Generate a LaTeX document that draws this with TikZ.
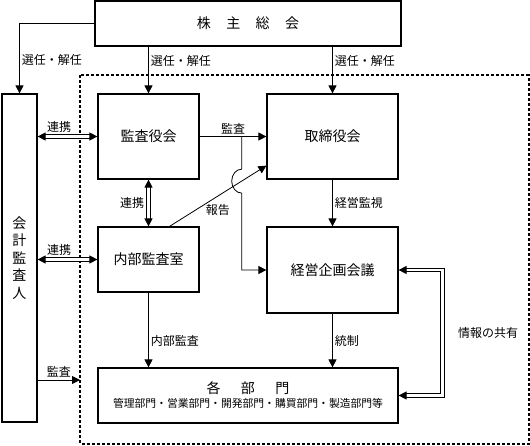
\documentclass[tikz,border=0pt]{standalone}
\usepackage{fontspec}
\setmainfont{Noto Sans CJK JP}
\usetikzlibrary{arrows.meta,calc}
\tikzset{
  box/.style = {draw, line width=1.2pt, inner sep=0pt, font=\fontsize{14}{17}\selectfont},
  arr/.style = {line width=0.8pt, -{Triangle[length=8pt,width=8pt]}},
  dbl/.style = {line width=1pt, double, double distance=2.4pt,
    {Triangle[length=8pt,width=8pt]}-{Triangle[length=8pt,width=8pt]}},
  lbl/.style = {font=\fontsize{12}{14}\selectfont, inner sep=2pt},
  frame/.style = {line width=2pt, dash pattern=on 3pt off 2pt}
}

\begin{document}
\begin{tikzpicture}[x=1pt,y=-1pt]
  \useasboundingbox (0,0) rectangle (530,445);
  % frame
  \draw[frame] (80,75) rectangle (528.5,443.5);
  % boxes
  \node[box, minimum width=306pt, minimum height=45pt] (sh) at (248,23.5)
    {株\hspace{1.1em}主\hspace{1.1em}総\hspace{1.1em}会};
  \node[box, minimum width=35pt, minimum height=328pt, align=center,
    font=\fontsize{14}{17.5}\selectfont] (kk) at (19.5,258) {会\\計\\監\\査\\人};
  \node[box, minimum width=101pt, minimum height=85pt] (ky) at (148.5,136.5) {監査役会};
  \node[box, minimum width=131pt, minimum height=85pt] (tr) at (332.5,136.5) {取締役会};
  \node[box, minimum width=101pt, minimum height=65pt] (nb) at (148.5,259.5) {内部監査室};
  \node[box, minimum width=131pt, minimum height=86pt] (kp) at (332.5,270) {経営企画会議};
  \node[box, minimum width=300pt, minimum height=55pt, align=center] (bm) at (248,395.5)
    {各\hspace{1.45em}部\hspace{1.45em}門\\[-3pt]{\fontsize{10.8}{13}\selectfont 管理部門・営業部門・開発部門・購買部門・製造部門等}};
  % election
  \draw[arr] (sh.west) -| (kk.north) node[lbl, pos=0.76, right] {選任・解任};
  \draw[arr] (sh.south -| ky.north) -- (ky.north) node[lbl, pos=0.3, right] {選任・解任};
  \draw[arr] (sh.south -| tr.north) -- (tr.north) node[lbl, pos=0.3, right] {選任・解任};
  % cooperation
  \draw[dbl] (kk.east |- ky.west) -- (ky.west) node[lbl, pos=0.36, above=2pt] {連携};
  \draw[dbl] (ky.south) -- (nb.north) node[lbl, midway, left=2pt] {連携};
  \draw[dbl] (kk.east |- nb.west) -- (nb.west) node[lbl, pos=0.36, above=2pt] {連携};
  % audit
  \draw[arr] (ky.east) -- (tr.west) coordinate[pos=0.63] (br) node[lbl, midway, above] {監査};
  % report
  \coordinate (rs) at ($(nb.north)+(21,0)$);
  \coordinate (re) at ($(tr.south west)+(0,-14)$);
  \draw[arr] (rs) -- (re) node[lbl, midway, below=6pt] {報告};
  % branch with hop
  \coordinate (bb) at (br |- kp.west);
  \coordinate (hc) at (intersection of rs--re and br--bb);
  \draw[arr] (br) -- ($(hc)+(0,-12)$) arc[start angle=270, end angle=90, x radius=10, y radius=12]
    -- (bb) -- (kp.west);
  % control
  \draw[arr] (tr.south) -- (kp.north) node[lbl, midway, right] {経営監視};
  \draw[arr] (nb.south) -- (bm.north -| nb.south) node[lbl, pos=0.64, right] {内部監査};
  \draw[arr] (kp.south) -- (bm.north -| kp.south) node[lbl, midway, right] {統制};
  \coordinate (fr) at (80,380);
  \draw[arr] (kk.east |- fr) -- (fr) node[lbl, midway, above] {監査};
  % information sharing
  \draw[dbl] (kp.east) -- ++(44,0) |- (bm.east) node[lbl, pos=0.25, right=13pt] {情報の共有};
\end{tikzpicture}
\end{document}
